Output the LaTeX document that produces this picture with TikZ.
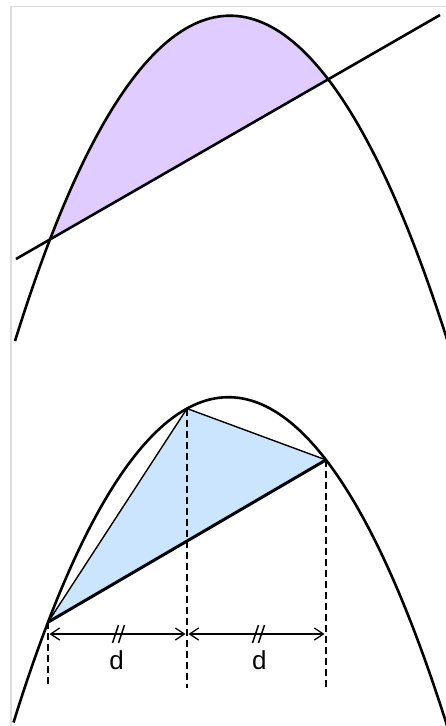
\documentclass[tikz,border=0pt]{standalone}
\usepackage{fontspec}
\setmainfont{Liberation Sans}
\usetikzlibrary{arrows.meta,calc}
\definecolor{segpurple}{RGB}{224,204,255}
\definecolor{segblue}{RGB}{204,229,255}
\definecolor{framegray}{RGB}{221,221,221}
\begin{document}
\begin{tikzpicture}[x=1pt,y=-1pt,
  declare function={pu(\x)=(\x-230)/100; pf(\x)=15.7+65.54*pu(\x)*pu(\x)-0.402*pu(\x)*pu(\x)*pu(\x)+0.858*pu(\x)*pu(\x)*pu(\x)*pu(\x);},
  curveline/.style={line width=2.6pt},
  chordline/.style={line width=3pt},
  sideline/.style={line width=1.4pt},
  dropline/.style={line width=2.2pt, dash pattern=on 7pt off 4pt},
  dimarrow/.style={line width=1.3pt, {Straight Barb[length=9pt,width=12pt]}-{Straight Barb[length=9pt,width=12pt]}, shorten <=1.5pt, shorten >=1.5pt},
  tickline/.style={line width=1.5pt},
  dlabel/.style={anchor=base, inner sep=0pt, font=\fontsize{26}{30}\selectfont}
]
\useasboundingbox (0,0) rectangle (445,726);
% frame
\draw[framegray, line width=1.5pt] (446,6.5) -- (11,6.5) -- (11,727);

% ---------- top: parabolic segment ----------
\coordinate (A1) at (50,{pf(50)});
\coordinate (A2) at (328,{pf(328)});
\coordinate (L1) at (16,259);
\coordinate (L2) at (440,15);
\fill[segpurple] plot[domain=50:328,samples=100] (\x,{pf(\x)}) -- cycle;
\draw[curveline] plot[domain=15:452,samples=160] (\x,{pf(\x)});
\draw[curveline] (L1) -- (L2);

% ---------- bottom: inscribed triangle ----------
\begin{scope}[shift={(-1.5,381.5)}]
  \coordinate (P1) at (49.5,{pf(49.5)});
  \coordinate (P3) at (188.5,{pf(188.5)});
  \coordinate (P2) at (327.5,{pf(327.5)});
  \coordinate (Base) at (0,306.5);
  \coordinate (Ay) at (0,252.5);
  \fill[segblue] (P1) -- (P3) -- (P2) -- cycle;
  \draw[curveline] plot[domain=15:452,samples=160] (\x,{pf(\x)});
  \draw[sideline] (P1) -- (P3) -- (P2);
  \draw[chordline] (P1) -- (P2);
  \draw[dropline] (P1) -- (P1 |- Base);
  \draw[dropline] (P3) -- (P3 |- Base);
  \draw[dropline] (P2) -- (P2 |- Base);
  \draw[dimarrow] (P1 |- Ay) -- (P3 |- Ay);
  \draw[dimarrow] (P3 |- Ay) -- (P2 |- Ay);
  % equal-length ticks
  \coordinate (T1) at (120,252.5);
  \coordinate (T2) at (260,252.5);
  \draw[tickline] ($(T1)+(-6,9)$) -- ($(T1)+(0,-9)$);
  \draw[tickline] ($(T1)+(0,9)$) -- ($(T1)+(6,-9)$);
  \draw[tickline] ($(T2)+(-6,9)$) -- ($(T2)+(0,-9)$);
  \draw[tickline] ($(T2)+(0,9)$) -- ($(T2)+(6,-9)$);
  \node[dlabel] (d1) at (118.2,287.5) {d};
  \node[dlabel] (d2) at (260.8,287.5) {d};
\end{scope}
\end{tikzpicture}
\end{document}
